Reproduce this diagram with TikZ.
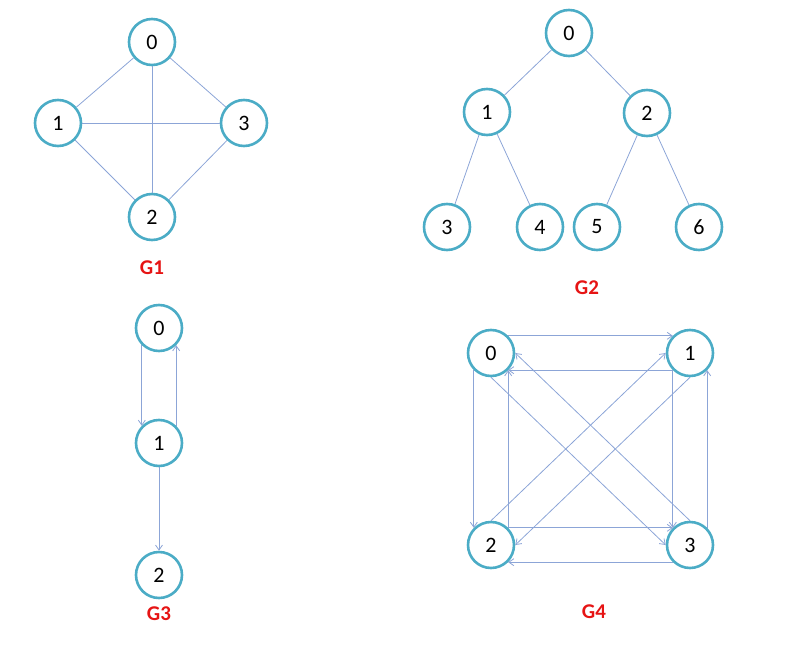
\documentclass[tikz,border=0pt]{standalone}
\usepackage{fontspec}
\setmainfont{Carlito}
\definecolor{ringteal}{RGB}{75, 172, 198}
\definecolor{edgeblue}{RGB}{140, 165, 215}
\definecolor{tagred}{RGB}{230, 20, 20}
\usetikzlibrary{arrows.meta}

\begin{document}
\begin{tikzpicture}[x=1pt, y=-1pt,
  vtx/.style={circle, draw=ringteal, line width=2.6pt, fill=white, minimum size=46pt, inner sep=0pt, font=\fontsize{22}{22}\selectfont},
  edge/.style={draw=edgeblue, line width=0.8pt},
  arc/.style={edge, -{Straight Barb[length=5pt, width=7pt]}},
  tag/.style={text=tagred, font=\fontsize{21}{21}\selectfont\bfseries}
]
  \useasboundingbox (0,0) rectangle (802,650);

  % G1
  \node[vtx] (a0) at (152, 42) {0};
  \node[vtx] (a1) at (58, 123) {1};
  \node[vtx] (a3) at (244, 123) {3};
  \node[vtx] (a2) at (152, 217) {2};
  \node[tag] (g1) at (152, 268) {G1};
  \foreach \u/\v in {a0/a1, a0/a3, a0/a2, a1/a3, a1/a2, a3/a2}
    \draw[edge] (\u) -- (\v);

  % G2
  \node[vtx] (b0) at (569, 33) {0};
  \node[vtx] (b1) at (487, 112) {1};
  \node[vtx] (b2) at (647, 113) {2};
  \node[vtx] (b3) at (447, 227) {3};
  \node[vtx] (b4) at (540, 227) {4};
  \node[vtx] (b5) at (597, 227) {5};
  \node[vtx] (b6) at (699, 227) {6};
  \node[tag] (g2) at (587, 288) {G2};
  \foreach \u/\v in {b0/b1, b0/b2, b1/b3, b1/b4, b2/b5, b2/b6}
    \draw[edge] (\u) -- (\v);

  % G3
  \node[vtx] (c0) at (159, 328) {0};
  \node[vtx] (c1) at (159, 443) {1};
  \node[vtx] (c2) at (159, 575) {2};
  \node[tag] (g3) at (159, 614) {G3};
  \draw[arc] (c0.-135) -- (c1.135);
  \draw[arc] (c1.45) -- (c0.-45);
  \draw[arc] (c1) -- (c2);

  % G4
  \node[vtx] (d0) at (491, 353) {0};
  \node[vtx] (d1) at (690, 353) {1};
  \node[vtx] (d2) at (491, 545) {2};
  \node[vtx] (d3) at (690, 545) {3};
  \node[tag] (g4) at (594, 612) {G4};
  \draw[arc] (d0.45) -- (d1.135);
  \draw[arc] (d1.-135) -- (d0.-45);
  \draw[arc] (d0.-135) -- (d2.135);
  \draw[arc] (d2.45) -- (d0.-45);
  \draw[arc] (d1.-135) -- (d3.135);
  \draw[arc] (d3.45) -- (d1.-45);
  \draw[arc] (d2.45) -- (d3.135);
  \draw[arc] (d3.-135) -- (d2.-45);
  \draw[arc] (d0.south) -- (d3.west);
  \draw[arc] (d3.north) -- (d0.east);
  \draw[arc] (d2.north) -- (d1.west);
  \draw[arc] (d1.south) -- (d2.east);
\end{tikzpicture}
\end{document}
